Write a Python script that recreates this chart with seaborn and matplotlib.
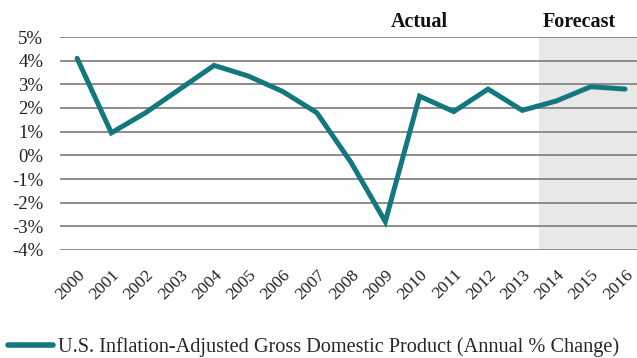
import matplotlib
matplotlib.use("Agg")
import matplotlib.pyplot as plt
import seaborn as sns
import pandas as pd

years = [str(y) for y in range(2000, 2017)]
gdp_change = [4.1, 0.95, 1.8, 2.8, 3.8, 3.35, 2.7, 1.8, -0.3, -2.8,
              2.5, 1.85, 2.8, 1.9, 2.3, 2.9, 2.8]
y_ticks = [-4, -3, -2, -1, 0, 1, 2, 3, 4, 5]
forecast_start = "2014"
series_label = "U.S. Inflation-Adjusted Gross Domestic Product (Annual % Change)"

sns.set_theme(style="white")
plt.rcParams["font.family"] = ["Liberation Serif", "DejaVu Serif"]

df = pd.DataFrame({"year": years, "gdp": gdp_change})
df["x"] = range(len(df))

fig = plt.figure(figsize=(6.37, 3.58), dpi=100)
ax = fig.add_axes([60 / 637, 1 - 250 / 358, 1 - 60 / 637, (250 - 37) / 358])

teal = "#12777F"
fs_idx = years.index(forecast_start)
ax.axvspan(fs_idx - 0.5, len(years) - 0.5, color="#E8E8E8", zorder=0, lw=0)

for t in y_ticks:
    ax.axhline(t, color="#8C8C8C", lw=1.4, zorder=1)

sns.lineplot(data=df, x="x", y="gdp", ax=ax, color=teal, lw=3.6,
             label=series_label, zorder=3, legend=False,
             solid_capstyle="round", solid_joinstyle="miter")

ax.set_xlim(-0.5, len(years) - 0.65)
ax.set_ylim(-4, 5)
ax.set_yticks(y_ticks)
ax.set_yticklabels([f"{t}%" for t in y_ticks], fontsize=13.5, color="#222222")
ax.set_xticks(df["x"])
ax.set_xticklabels(years, rotation=45, ha="right", rotation_mode="anchor",
                   fontsize=12.5, color="#222222")
ax.tick_params(axis="both", length=0)
ax.tick_params(axis="x", pad=12)
ax.tick_params(axis="y", pad=12)
ax.set_xlabel("")
ax.set_ylabel("")
for s in ax.spines.values():
    s.set_visible(False)

ax.text(10.0, 1.047, "Actual", transform=ax.get_xaxis_transform(),
        ha="center", va="baseline", fontsize=14.5, fontweight="bold", color="#111111")
ax.text(14.66, 1.047, "Forecast", transform=ax.get_xaxis_transform(),
        ha="center", va="baseline", fontsize=14.5, fontweight="bold", color="#111111")

handles = [plt.Line2D([0], [0], color=teal, lw=4, solid_capstyle="round")]
fig.legend(handles, [series_label], loc="center left",
           bbox_to_anchor=(0.0, 1 - 347 / 358), frameon=False, fontsize=14.6,
           handlelength=2.2, handletextpad=0.25, borderaxespad=0.1,
           borderpad=0.3)

fig.savefig("out.png", dpi=100)
